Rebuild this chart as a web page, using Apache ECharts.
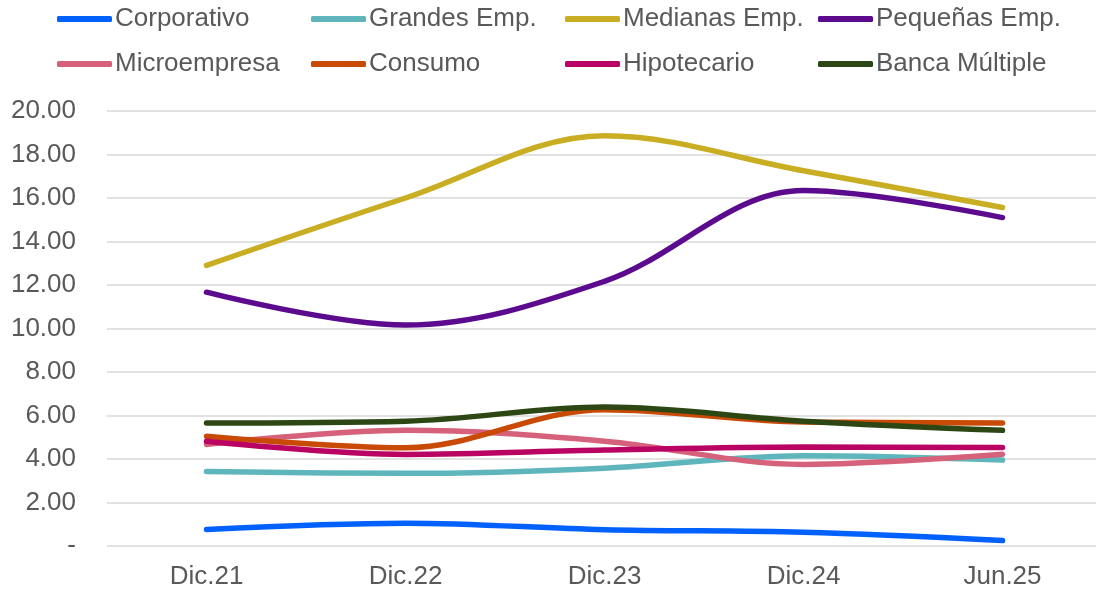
<!DOCTYPE html>
<html>
<head>
    <meta charset="utf-8">
    <title>ECharts</title>
    <script src="https://cdn.jsdelivr.net/npm/echarts@6/dist/echarts.min.js"></script>
</head>
<body style="margin:0;overflow:hidden">
    <!-- el área del gráfico sobresale un poco a la derecha, como en el original -->
    <div id="main" style="width:1110px;height:590px;"></div>
    <script type="text/javascript">
        // datos
        var categorias = ['Dic.21', 'Dic.22', 'Dic.23', 'Dic.24', 'Jun.25'];
        var corporativo = [0.76, 1.05, 0.75, 0.63, 0.25];
        var grandes = [3.42, 3.34, 3.58, 4.15, 3.95];
        var medianas = [12.9, 16.0, 18.86, 17.25, 15.56];
        var pequenas = [11.67, 10.16, 12.17, 16.34, 15.1];
        var micro = [4.67, 5.32, 4.82, 3.75, 4.22];
        var consumo = [5.05, 4.52, 6.27, 5.7, 5.66];
        var hipotecario = [4.82, 4.21, 4.41, 4.55, 4.53];
        var banca = [5.66, 5.74, 6.39, 5.74, 5.32];

        var nombres = ['Corporativo', 'Grandes Emp.', 'Medianas Emp.', 'Pequeñas Emp.',
                       'Microempresa', 'Consumo', 'Hipotecario', 'Banca Múltiple'];
        var valores = [corporativo, grandes, medianas, pequenas, micro, consumo, hipotecario, banca];
        var colores = ['#0061FE', '#5EB6BC', '#C9AE24', '#5C0A8E', '#D5617A', '#C84A05', '#BA0464', '#2C4714'];

        var chart = echarts.init(document.getElementById('main'));

        // leyenda en 4 columnas
        var colLeft = [57, 311, 565, 818];
        var legends = [];
        for (var c = 0; c < 4; c++) {
            legends.push({
                orient: 'vertical',
                left: colLeft[c],
                top: 6,
                padding: 0,
                itemWidth: 55,
                itemHeight: 6,
                itemGap: 19,
                icon: 'roundRect',
                data: [nombres[c], nombres[c + 4]],
                textStyle: {fontFamily: 'Liberation Sans', fontSize: 26, color: '#595959', padding: [0, 0, 0, -2]}
            });
        }

        var series = [];
        for (var i = 0; i < nombres.length; i++) {
            series.push({
                name: nombres[i],
                type: 'line',
                smooth: 0.35,
                symbol: 'none',
                data: valores[i],
                lineStyle: {width: 5.5, color: colores[i], cap: 'round'},
                itemStyle: {color: colores[i]}
            });
        }

        var option = {
            animation: false,
            color: colores,
            legend: legends,
            grid: {left: 107, right: 8, top: 111, bottom: 43},
            xAxis: {
                type: 'category',
                data: categorias,
                boundaryGap: true,
                axisLine: {show: false},
                axisTick: {show: false},
                axisLabel: {fontFamily: 'Liberation Sans', fontSize: 26, color: '#595959', margin: 18}
            },
            yAxis: {
                type: 'value',
                min: 0,
                max: 20,
                interval: 2,
                axisLine: {show: false},
                axisTick: {show: false},
                splitLine: {lineStyle: {color: '#d9d9d9', width: 1.5}},
                axisLabel: {
                    fontFamily: 'Liberation Sans', fontSize: 26, color: '#595959', margin: 31,
                    formatter: function (v) { return v === 0 ? '-' : v.toFixed(2); }
                }
            },
            series: series
        };
        chart.setOption(option);
    </script>
</body>
</html>
